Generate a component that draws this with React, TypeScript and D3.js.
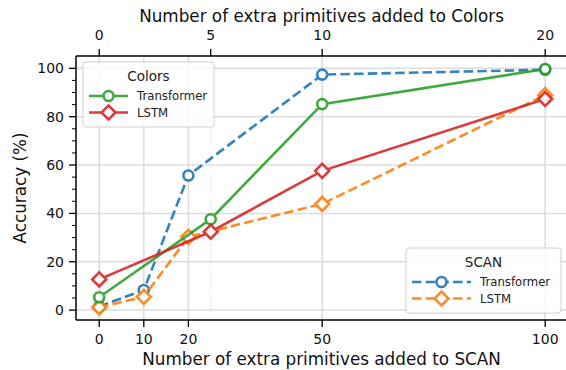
import React from 'react';
import * as d3 from 'd3';

// SCAN series (bottom axis)
const scanX = [0, 10, 20, 50, 100];
const scanTransformer = [1.5, 8.3, 55.7, 97.4, 99.4];
const scanLSTM = [1.1, 5.5, 30.3, 43.9, 88.9];

// Colors series (top axis)
const colorsX = [0, 5, 10, 20];
const colorsTransformer = [5.3, 37.6, 85.2, 99.7];
const colorsLSTM = [12.7, 32.4, 57.6, 87.3];

const bottomTicks = [0, 10, 20, 50, 100];
const topTicks = [0, 5, 10, 20];
const yTicks = [0, 20, 40, 60, 80, 100];
const yMinorTicks = d3.range(0, 105, 5).filter(v => v % 20 !== 0);

const BLUE = '#1f77b4';
const ORANGE = '#ff7f0e';
const GREEN = '#2ca02c';
const RED = '#d62728';

const W = 566;
const H = 370;
const margin = { top: 56, right: 0, bottom: 50, left: 76 };
const FONT = 'DejaVu Sans, sans-serif';

const xBottom = d3.scaleLinear().domain([-5.2, 105]).range([margin.left, margin.left + 110.2 * 4.46]);
const xTop = d3.scaleLinear().domain([-1.04, 21]).range([margin.left, margin.left + 22.04 * 22.3]);
const y = d3.scaleLinear().domain([-4.1, 105.1]).range([320, 56]);

const diamond = (cx: number, cy: number, r: number) =>
  `M${cx},${cy - r}L${cx + r},${cy}L${cx},${cy + r}L${cx - r},${cy}Z`;

type Marker = 'circle' | 'diamond';

const Series: React.FC<{ xs: number[]; ys: number[]; xs2: d3.ScaleLinear<number, number>; color: string; dashed?: boolean; marker: Marker }> =
  ({ xs, ys, xs2, color, dashed, marker }) => {
    const line = d3.line<number>().x((_, i) => xs2(xs[i])).y(d => y(d));
    return (
      <g opacity={0.9}>
        <path d={line(ys) || ''} fill="none" stroke={color} strokeWidth={2.6}
          strokeDasharray={dashed ? '9.5,4.2' : undefined} />
        {ys.map((v, i) => marker === 'circle'
          ? <circle key={i} cx={xs2(xs[i])} cy={y(v)} r={5} fill="white" stroke={color} strokeWidth={2.6} />
          : <path key={i} d={diamond(xs2(xs[i]), y(v), 7)} fill="white" stroke={color} strokeWidth={2.6} />)}
      </g>
    );
  };

const LegendBox: React.FC<{ x: number; y: number; w: number; h: number; title: string; lineLen: number; entries: { label: string; color: string; marker: Marker; dashed: boolean }[] }> =
  ({ x, y: y0, w, h, title, lineLen, entries }) => (
    <g>
      <rect x={x} y={y0} width={w} height={h} rx={3} fill="white" fillOpacity={0.8} stroke="#d0d0d0" strokeWidth={1} />
      <text x={x + w / 2} y={y0 + 19} textAnchor="middle" fontSize={13.5} fill="#222">{title}</text>
      {entries.map((e, i) => {
        const cy = y0 + 34 + i * 16.5;
        const lx = x + 6;
        const cx = lx + lineLen / 2;
        return (
          <g key={e.label}>
            <g opacity={0.9}>
              <line x1={lx} x2={lx + lineLen} y1={cy} y2={cy} stroke={e.color} strokeWidth={2.6}
                strokeDasharray={e.dashed ? '9.5,4.2' : undefined} />
              {e.marker === 'circle'
                ? <circle cx={cx} cy={cy} r={5} fill="white" stroke={e.color} strokeWidth={2.6} />
                : <path d={diamond(cx, cy, 7)} fill="white" stroke={e.color} strokeWidth={2.6} />}
            </g>
            <text x={lx + lineLen + 9} y={cy + 4.2} fontSize={11.7} fill="#222">{e.label}</text>
          </g>
        );
      })}
    </g>
  );

export default function App() {
  const x0 = margin.left;
  const x1 = W + 2;
  const yb = 320;
  const yt = 56;
  return (
    <svg width={W} height={H} style={{ position: 'absolute', left: 0, top: 0 }} fontFamily={FONT}>
      <rect width={W} height={H} fill="white" />
      {/* grid */}
      {yTicks.map(t => <line key={'gy' + t} x1={x0} x2={x1} y1={y(t)} y2={y(t)} stroke="#dcdcdc" strokeWidth={1.5} />)}
      {bottomTicks.map(t => <line key={'gx' + t} x1={xBottom(t)} x2={xBottom(t)} y1={yt} y2={yb} stroke="#dcdcdc" strokeWidth={1.5} />)}
      {topTicks.map(t => <line key={'gt' + t} x1={xTop(t)} x2={xTop(t)} y1={yt} y2={yb} stroke="#d8d8d8" strokeWidth={1} strokeDasharray="1,2" />)}

      {/* series */}
      <Series xs={scanX} ys={scanTransformer} xs2={xBottom} color={BLUE} dashed marker="circle" />
      <Series xs={scanX} ys={scanLSTM} xs2={xBottom} color={ORANGE} dashed marker="diamond" />
      <Series xs={colorsX} ys={colorsTransformer} xs2={xTop} color={GREEN} marker="circle" />
      <Series xs={colorsX} ys={colorsLSTM} xs2={xTop} color={RED} marker="diamond" />

      {/* spines */}
      <line x1={x0} x2={x0} y1={yt} y2={yb} stroke="black" strokeWidth={1.5} />
      <line x1={x0} x2={x1} y1={yb} y2={yb} stroke="black" strokeWidth={1.5} />
      <line x1={x0} x2={x1} y1={yt} y2={yt} stroke="black" strokeWidth={1.5} />

      {/* y ticks */}
      {yTicks.map(t => (
        <g key={'yt' + t}>
          <line x1={x0 - 7} x2={x0} y1={y(t)} y2={y(t)} stroke="black" strokeWidth={1.3} />
          <text x={x0 - 12} y={y(t) + 5} textAnchor="end" fontSize={14} fill="#111">{t}</text>
        </g>
      ))}
      {yMinorTicks.map(t => <line key={'ym' + t} x1={x0 - 4} x2={x0} y1={y(t)} y2={y(t)} stroke="black" strokeWidth={1} />)}

      {/* bottom ticks */}
      {bottomTicks.map(t => (
        <g key={'bt' + t}>
          <line x1={xBottom(t)} x2={xBottom(t)} y1={yb} y2={yb + 7} stroke="black" strokeWidth={1.3} />
          <text x={xBottom(t)} y={yb + 24} textAnchor="middle" fontSize={14} fill="#111">{t}</text>
        </g>
      ))}
      {/* top ticks */}
      {topTicks.map(t => (
        <g key={'tt' + t}>
          <line x1={xTop(t)} x2={xTop(t)} y1={yt - 7} y2={yt} stroke="black" strokeWidth={1.3} />
          <text x={xTop(t)} y={yt - 16} textAnchor="middle" fontSize={14} fill="#111">{t}</text>
        </g>
      ))}

      {/* axis titles */}
      <text x={321.5} y={365} textAnchor="middle" fontSize={16.8} fill="#111">Number of extra primitives added to SCAN</text>
      <text x={321.5} y={22} textAnchor="middle" fontSize={16.8} fill="#111">Number of extra primitives added to Colors</text>
      <text transform={`translate(26,${(yt + yb) / 2}) rotate(-90)`} textAnchor="middle" fontSize={16.8} fill="#111">Accuracy (%)</text>

      {/* legends */}
      <LegendBox x={83} y={62} w={131} h={65} title="Colors" lineLen={39}
        entries={[
          { label: 'Transformer', color: GREEN, marker: 'circle', dashed: false },
          { label: 'LSTM', color: RED, marker: 'diamond', dashed: false },
        ]} />
      <LegendBox x={406} y={248} w={155} h={65} title="SCAN" lineLen={59}
        entries={[
          { label: 'Transformer', color: BLUE, marker: 'circle', dashed: true },
          { label: 'LSTM', color: ORANGE, marker: 'diamond', dashed: true },
        ]} />
    </svg>
  );
}
